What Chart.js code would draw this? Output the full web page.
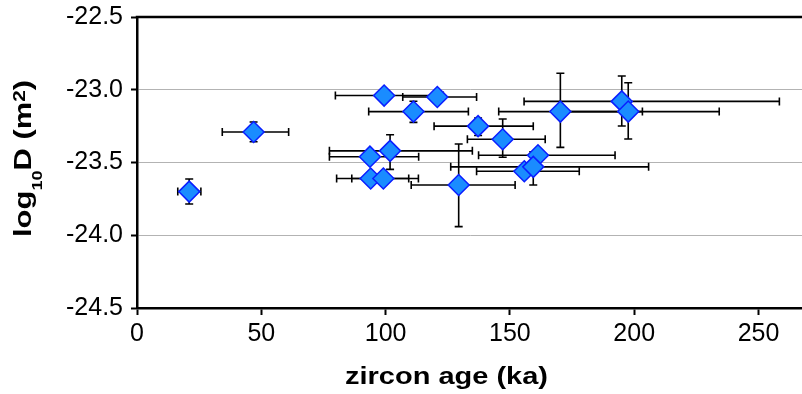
<!DOCTYPE html>
<html>
<head>
<meta charset="utf-8">
<script src="https://cdn.jsdelivr.net/npm/chart.js@4.4.1/dist/chart.umd.min.js"></script>
<style>
  html, body { margin: 0; padding: 0; background: #ffffff; }
  canvas { display: block; }
</style>
</head>
<body>
<canvas id="c" width="802" height="394"></canvas>
<script>
// ---- data ----
const ages    = [21.0, 46.9, 99.4, 120.8, 111.2, 137.2, 147.1, 101.8, 93.7, 94.0, 99.1, 129.4, 161.3, 155.8, 159.4, 170.3, 195.0, 197.6];
const logD    = [-23.70, -23.29, -23.04, -23.05, -23.15, -23.25, -23.34, -23.42, -23.46, -23.61, -23.61, -23.655, -23.45, -23.56, -23.53, -23.15, -23.08, -23.15];
const ageMin  = [16.4, 34.3, 79.8, 106.9, 93.2, 119.5, 132.9, 77.4, 77.4, 80.3, 86.4, 110.3, 137.4, 136.6, 126.2, 145.5, 155.7, 170.2];
const ageMax  = [25.7, 61.0, 123.2, 136.6, 133.3, 159.4, 164.2, 134.9, 113.3, 109.3, 113.2, 152.1, 192.3, 177.9, 205.8, 203.3, 258.4, 234.2];
const logDMin = [-23.785, -23.357, null, null, -23.224, -23.314, -23.464, -23.547, null, null, null, -23.941, null, null, -23.655, -23.396, -23.249, -23.338];
const logDMax = [-23.613, -23.222, null, null, -23.079, -23.194, -23.201, -23.309, null, null, null, -23.373, null, null, -23.426, -22.887, -22.906, -22.952];
const xTicks  = [0, 50, 100, 150, 200, 250];
const yTicks  = [-24.5, -24.0, -23.5, -23.0, -22.5];
const yTickLabels = ['-24.5', '-24.0', '-23.5', '-23.0', '-22.5'];
const xTitle = 'zircon age (ka)';
const yTitleParts = ['log', '10', 'D (m', '2', ')'];

const FONT = "'Liberation Sans', Arial, Helvetica, sans-serif";

const errorBars = {
  id: 'errorBars',
  beforeDatasetsDraw(chart) {
    const { ctx, scales: { x, y } } = chart;
    const cap = 4;
    ctx.save();
    ctx.strokeStyle = '#000';
    ctx.lineWidth = 1.6;
    for (let i = 0; i < ages.length; i++) {
      const py = y.getPixelForValue(logD[i]);
      const px = x.getPixelForValue(ages[i]);
      const x0 = x.getPixelForValue(ageMin[i]);
      const x1 = x.getPixelForValue(ageMax[i]);
      ctx.beginPath();
      ctx.moveTo(x0, py); ctx.lineTo(x1, py);
      ctx.moveTo(x0, py - cap); ctx.lineTo(x0, py + cap);
      ctx.moveTo(x1, py - cap); ctx.lineTo(x1, py + cap);
      ctx.stroke();
      if (logDMin[i] !== null) {
        const y0 = y.getPixelForValue(logDMin[i]);
        const y1 = y.getPixelForValue(logDMax[i]);
        ctx.beginPath();
        ctx.moveTo(px, y0); ctx.lineTo(px, y1);
        ctx.moveTo(px - cap, y0); ctx.lineTo(px + cap, y0);
        ctx.moveTo(px - cap, y1); ctx.lineTo(px + cap, y1);
        ctx.stroke();
      }
    }
    ctx.restore();
  }
};

const frameAndTitles = {
  id: 'frameAndTitles',
  afterDraw(chart) {
    const { ctx, chartArea } = chart;
    ctx.save();
    // top frame line
    ctx.strokeStyle = '#000';
    ctx.lineWidth = 2.5;
    ctx.beginPath();
    ctx.moveTo(chartArea.left - 1.25, chartArea.top);
    ctx.lineTo(chartArea.right, chartArea.top);
    ctx.stroke();

    ctx.fillStyle = '#000';
    ctx.textBaseline = 'alphabetic';
    ctx.textAlign = 'left';

    // x title (stretched like the reference lettering)
    ctx.font = 'bold 24px ' + FONT;
    const wx = ctx.measureText(xTitle).width;
    const sx = 203 / wx;
    ctx.save();
    ctx.translate(345, 383.5);
    ctx.scale(sx, 1);
    ctx.fillText(xTitle, 0, 0);
    ctx.restore();

    // y title with subscript / superscript
    const segs = [
      { t: yTitleParts[0], size: 24, dy: 0 },
      { t: yTitleParts[1], size: 14, dy: 11.5 },
      { t: yTitleParts[2], size: 24, dy: 0 },
      { t: yTitleParts[3], size: 16, dy: -5.5 },
      { t: yTitleParts[4], size: 24, dy: 0 }
    ];
    let total = 0;
    segs.forEach(s => { ctx.font = 'bold ' + s.size + 'px ' + FONT; s.w = ctx.measureText(s.t).width; total += s.w; });
    const sy = 157 / total;
    ctx.save();
    ctx.translate(30.5, 237);
    ctx.rotate(-Math.PI / 2);
    ctx.scale(sy, 1);
    let cx = 0;
    segs.forEach(s => {
      ctx.font = 'bold ' + s.size + 'px ' + FONT;
      ctx.fillText(s.t, cx, s.dy);
      cx += s.w;
    });
    ctx.restore();
    ctx.restore();
  }
};

new Chart(document.getElementById('c'), {
  type: 'scatter',
  data: {
    datasets: [{
      data: ages.map((a, i) => ({ x: a, y: logD[i] })),
      pointStyle: 'rectRot',
      pointRadius: 10.5,
      pointHoverRadius: 10.5,
      backgroundColor: '#1A8CFF',
      borderColor: '#0A1EFF',
      borderWidth: 1.5
    }]
  },
  options: {
    responsive: false,
    animation: false,
    events: [],
    layout: { autoPadding: false, padding: { top: 17, right: 0, left: 0, bottom: 0 } },
    plugins: { legend: { display: false }, tooltip: { enabled: false } },
    scales: {
      x: {
        type: 'linear',
        min: 0,
        max: 267.5,
        afterBuildTicks: s => { s.ticks = xTicks.map(v => ({ value: v })); },
        afterFit: s => { s.height = 86; s.paddingLeft = 0; s.paddingRight = 0; },
        ticks: {
          color: '#000',
          font: { family: FONT, size: 25 },
          padding: 4,
          maxRotation: 0,
          autoSkip: false,
          callback: v => String(v)
        },
        grid: {
          drawOnChartArea: false,
          drawTicks: true,
          tickLength: 7,
          tickColor: '#000',
          tickWidth: 2
        },
        border: { display: true, color: '#000', width: 2.5 }
      },
      y: {
        type: 'linear',
        min: -24.5,
        max: -22.5,
        afterBuildTicks: s => { s.ticks = yTicks.map(v => ({ value: v })); },
        afterFit: s => { s.width = 137; s.paddingTop = 0; s.paddingBottom = 0; },
        ticks: {
          color: '#000',
          font: { family: FONT, size: 25 },
          padding: 8,
          autoSkip: false,
          callback: (v) => { const k = yTicks.indexOf(v); return k >= 0 ? yTickLabels[k] : v.toFixed(1); }
        },
        grid: {
          color: '#b3b3b3',
          lineWidth: 1,
          drawTicks: true,
          tickLength: 6,
          tickColor: '#000',
          tickWidth: 2
        },
        border: { display: true, color: '#000', width: 2.5 }
      }
    }
  },
  plugins: [errorBars, frameAndTitles]
});
</script>
</body>
</html>
